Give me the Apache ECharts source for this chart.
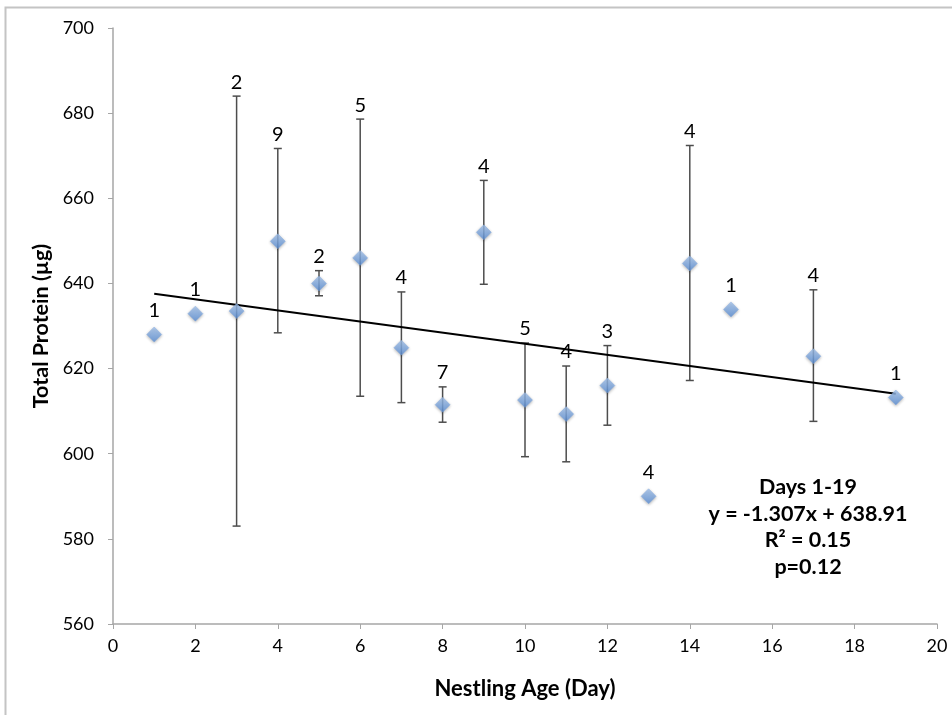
<!DOCTYPE html>
<html>
<head>
<meta charset="utf-8">
<script src="https://cdn.jsdelivr.net/npm/echarts@6/dist/echarts.min.js"></script>
<style>
html, body {margin: 0; padding: 0; background: #fff;}
#chart {width: 952px; height: 715px;}
</style>
</head>
<body>
<div id="chart"></div>
<script>
// nestling age (day)
var days = [1, 2, 3, 4, 5, 6, 7, 8, 9, 10, 11, 12, 13, 14, 15, 17, 19];
// mean total protein (ug)
var means = [628, 632.9, 633.5, 649.9, 640, 646, 624.9, 611.5, 652, 612.6, 609.3, 616, 590, 644.7, 633.9, 622.9, 613.2];
// error bar ends (null = no bar drawn)
var errTop = [null, null, 684, 671.7, 643, 678.6, 638, 615.7, 664.2, 626, 620.6, 625.4, null, 672.4, null, 638.5, null];
var errLow = [null, null, 583, 628.4, 637.1, 613.5, 612, 607.4, 639.8, 599.3, 598.1, 606.7, null, 617.2, null, 607.6, null];
// sample size above each point
var nCounts = [1, 1, 2, 9, 2, 5, 4, 7, 4, 5, 4, 3, 4, 4, 1, 4, 1];
// linear trend, days 1-19
var trendX = [1, 19];
var trendY = [637.60, 614.08];
var statLines = ['Days 1-19', 'y = -1.307x + 638.91', 'R\u00b2 = 0.15', 'p=0.12'];

var myChart = echarts.init(document.getElementById('chart'));

var pointData = [];
days.forEach(function(d, i) {
	pointData.push([d, means[i]]);
});
var trendData = [];
trendX.forEach(function(x, i) {
	trendData.push([x, trendY[i]]);
});

function renderErr(params, api) {
	var i = params.dataIndex;
	var x = api.value(0);
	var children = [];
	var labelPt;
	if (errTop[i] != null) {
		var pTop = api.coord([x, errTop[i]]);
		var pLow = api.coord([x, errLow[i]]);
		var st = {stroke: '#4d4d4d', lineWidth: 1.5};
		children.push({type: 'line', shape: {x1: pTop[0], y1: pTop[1], x2: pLow[0], y2: pLow[1]}, style: st});
		children.push({type: 'line', shape: {x1: pTop[0] - 4, y1: pTop[1], x2: pTop[0] + 4, y2: pTop[1]}, style: st});
		children.push({type: 'line', shape: {x1: pLow[0] - 4, y1: pLow[1], x2: pLow[0] + 4, y2: pLow[1]}, style: st});
		labelPt = [pTop[0], pTop[1] - 14];
	} else {
		var pm = api.coord([x, means[i]]);
		labelPt = [pm[0], pm[1] - 24];
	}
	children.push({
		type: 'text',
		x: labelPt[0],
		y: labelPt[1],
		style: {
			text: String(nCounts[i]),
			fill: '#000',
			font: '20px Lato',
			align: 'center',
			verticalAlign: 'middle'
		}
	});
	return {type: 'group', children: children};
}

option = {
	animation: false,
	backgroundColor: '#fff',
	grid: {left: 113, right: 15, top: 28, bottom: 91},
	xAxis: {
		type: 'value',
		min: 0,
		max: 20,
		interval: 2,
		name: 'Nestling Age (Day)',
		nameLocation: 'middle',
		nameGap: 54,
		nameTextStyle: {fontFamily: 'Lato', fontWeight: 'bold', fontSize: 22, color: '#000'},
		axisLine: {lineStyle: {color: '#a6a6a6', width: 1.5}},
		axisTick: {length: 5, lineStyle: {color: '#a6a6a6'}},
		axisLabel: {margin: 13, fontFamily: 'Lato', fontSize: 18, color: '#000'},
		splitLine: {show: false}
	},
	yAxis: {
		type: 'value',
		min: 560,
		max: 700,
		interval: 20,
		name: 'Total Protein (\u00b5g)',
		nameLocation: 'middle',
		nameRotate: 90,
		nameGap: 61,
		nameTextStyle: {fontFamily: 'Lato', fontWeight: 'bold', fontSize: 21.5, color: '#000'},
		axisLine: {show: true, lineStyle: {color: '#a6a6a6', width: 1.5}},
		axisTick: {show: true, length: 5, lineStyle: {color: '#a6a6a6'}},
		axisLabel: {margin: 19, fontFamily: 'Lato', fontSize: 18, color: '#000'},
		splitLine: {show: false}
	},
	graphic: [
		{
			type: 'rect',
			shape: {x: 5.5, y: 7.5, width: 980, height: 740},
			style: {fill: 'none', stroke: '#c4c4c4', lineWidth: 2},
			silent: true
		},
		{
			type: 'text',
			x: 808,
			y: 474,
			style: {
				text: statLines.join('\n'),
				font: 'bold 21.5px Lato',
				lineHeight: 26.5,
				fill: '#000',
				align: 'center',
				verticalAlign: 'top'
			}
		}
	],
	series: [
		{
			type: 'custom',
			renderItem: renderErr,
			data: pointData,
			encode: {x: 0, y: 1},
			z: 2
		},
		{
			type: 'line',
			data: trendData,
			symbol: 'none',
			lineStyle: {color: '#000', width: 2},
			z: 3
		},
		{
			type: 'scatter',
			data: pointData,
			symbol: 'diamond',
			symbolSize: 15,
			itemStyle: {
				color: new echarts.graphic.LinearGradient(0, 0, 0, 1, [
					{offset: 0, color: '#a9c8f0'},
					{offset: 1, color: '#5b90d8'}
				]),
				borderColor: '#7aa6e0',
				borderWidth: 0.5,
				shadowBlur: 3,
				shadowColor: 'rgba(0,0,0,0.35)',
				shadowOffsetY: 1
			},
			z: 4
		}
	]
};
myChart.setOption(option);
</script>
</body>
</html>
